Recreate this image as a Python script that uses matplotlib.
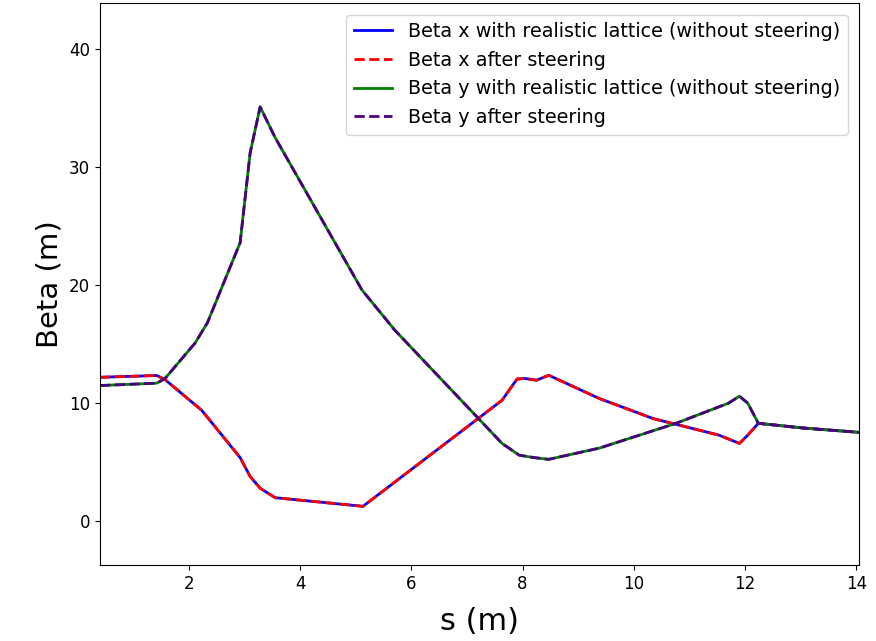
import matplotlib
matplotlib.use('Agg')
import matplotlib.pyplot as plt

# beta x along the lattice
s_x = [0.4, 1.42, 1.57, 2.23, 2.92, 3.1, 3.28, 3.55, 5.13, 7.63, 7.9, 8.04,
       8.25, 8.47, 9.38, 10.35, 11.53, 11.9, 12.05, 12.24, 13.05, 14.15]
beta_x = [12.2, 12.35, 12.0, 9.4, 5.4, 3.8, 2.8, 2.0, 1.27, 10.25, 12.05, 12.1,
          11.95, 12.37, 10.4, 8.7, 7.3, 6.6, 7.3, 8.3, 7.9, 7.5]

# beta y along the lattice
s_y = [0.4, 1.42, 1.57, 2.11, 2.33, 2.92, 3.1, 3.28, 3.55, 5.11, 5.7, 7.63,
       7.94, 8.2, 8.47, 9.38, 10.76, 11.7, 11.9, 12.05, 12.24, 13.05, 14.15]
beta_y = [11.5, 11.7, 12.1, 15.1, 16.8, 23.6, 31.2, 35.1, 32.5, 19.6, 16.2, 6.6,
          5.6, 5.4, 5.25, 6.2, 8.3, 10.0, 10.6, 10.0, 8.3, 7.9, 7.5]

fig = plt.figure(figsize=(8.76, 6.41), dpi=100)
ax = fig.add_axes([100 / 876, 1 - 565 / 641, 759 / 876, 562 / 641])

ax.plot(s_x, beta_x, color='blue', lw=2,
        label='Beta x with realistic lattice (without steering)')
ax.plot(s_x, beta_x, color='red', lw=2, ls='--', label='Beta x after steering')
ax.plot(s_y, beta_y, color='green', lw=2,
        label='Beta y with realistic lattice (without steering)')
ax.plot(s_y, beta_y, color='indigo', lw=2, ls='--', label='Beta y after steering')

ax.set_xlim(0.4, 14.05)
ax.set_ylim(-3.7, 43.9)
ax.set_xticks([2, 4, 6, 8, 10, 12, 14])
ax.set_yticks([0, 10, 20, 30, 40])
ax.tick_params(labelsize=12)

ax.set_xlabel('s (m)', fontsize=22, labelpad=10)
ax.set_ylabel('Beta (m)', fontsize=21)

ax.legend(loc='upper right', fontsize=13.8, handlelength=2.0,
          borderaxespad=0.6)

fig.savefig('out.png', dpi=100)
